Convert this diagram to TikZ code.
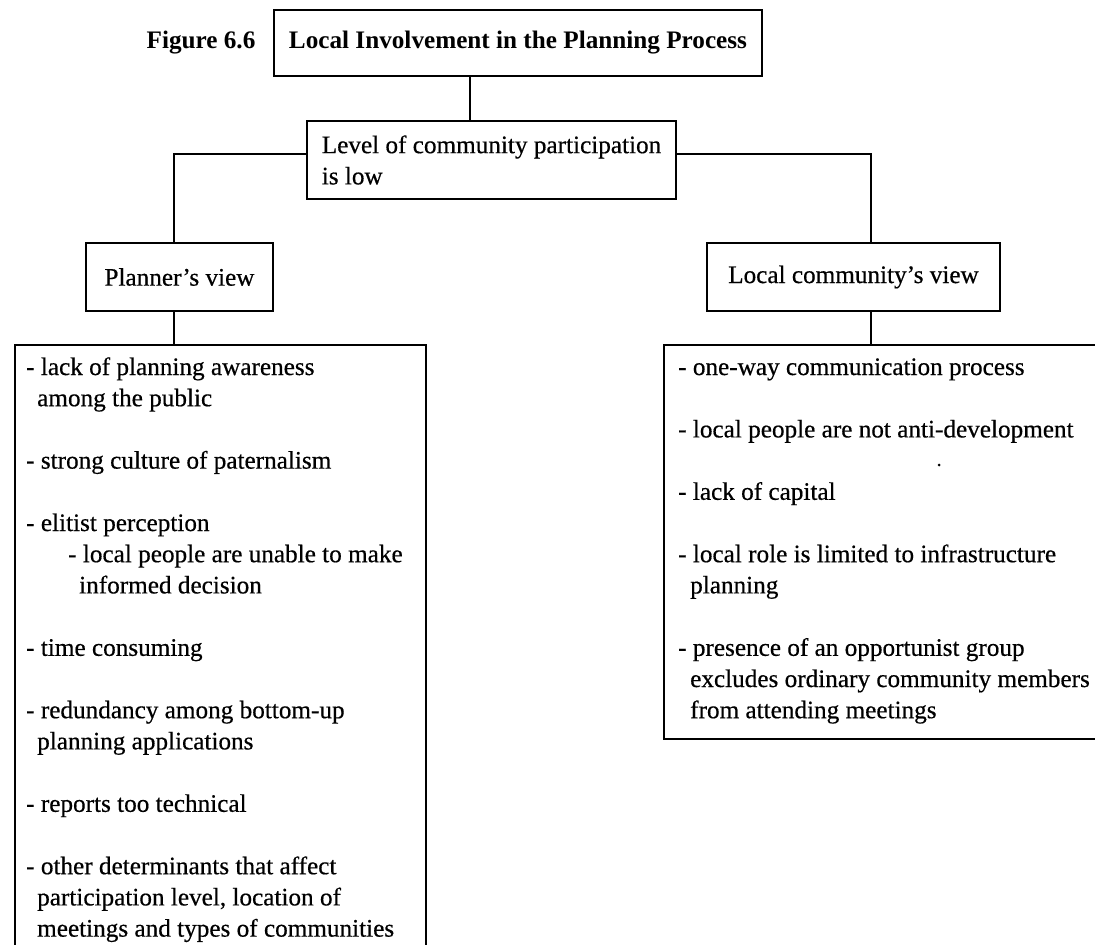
\documentclass[tikz,border=0pt]{standalone}
\usepackage{fontspec}
\setmainfont{Liberation Serif}[UprightFeatures={FakeBold=0.5}]
\begin{document}
\begin{tikzpicture}[x=1pt,y=-1pt,
  txt/.style={font=\fontsize{25.2}{31.2}\selectfont},
  every node/.style={txt, inner sep=0pt},
  box/.style={draw, line width=1.5pt, rectangle},
  link/.style={draw, line width=1.3pt},
  item/.style={anchor=base west}]
\useasboundingbox (0,0) rectangle (1095,945);
\clip (0,0) rectangle (1095,945);

% heading
\node[font=\fontsize{25.2}{31.2}\selectfont\bfseries] (fig) at (201,43) {Figure 6.6};
\node[box, minimum width=488pt, minimum height=66pt,
      font=\fontsize{25.2}{31.2}\selectfont\bfseries] (title) at (518,43)
      {Local Involvement in the Planning Process};

% central finding
\node[box, minimum width=369pt, minimum height=78pt, align=left]
  (lvl) at (491.5,160) {Level of community participation\\is low};

% the two views
\node[box, minimum width=187pt, minimum height=68pt] (pv) at (179.5,277) {Planner’s view};
\node[box, minimum width=293pt, minimum height=68pt] (lv) at (853.5,277) {Local community’s view};

% list frames (running past the page edges)
\node[box, minimum width=411pt, minimum height=620pt, anchor=north west] (pl) at (14,344) {};
\node[box, minimum width=460pt, minimum height=394pt, anchor=north west] (cl) at (663,344) {};

% connector guides
\coordinate (hy) at (0,154);
\coordinate (tx) at (470,0);
\coordinate (px) at (174,0);
\coordinate (cx) at (871,0);

\draw[link] (title.south -| tx) -- (lvl.north -| tx);
\draw[link] (lvl.west |- hy) -| (pv.north -| px);
\draw[link] (lvl.east |- hy) -| (lv.north -| cx);
\draw[link] (pv.south -| px) -- (pl.north -| px);
\draw[link] (lv.south -| cx) -- (cl.north -| cx);

% planner's reasons
\foreach \k/\x/\t [count=\i] in {
  0/26/{- lack of planning awareness},
  1/37/{among the public},
  3/26/{- strong culture of paternalism},
  5/26/{- elitist perception},
  6/68/{- local people are unable to make},
  7/79/{informed decision},
  9/26/{- time consuming},
  11/26/{- redundancy among bottom-up},
  12/37/{planning applications},
  14/26/{- reports too technical},
  16/26/{- other determinants that affect},
  17/37/{participation level, location of},
  18/37/{meetings and types of communities}}
  \node[item] (pl\i) at (\x,{375+31.2*\k}) {\t};

% community's reasons
\foreach \k/\x/\t [count=\i] in {
  0/678/{- one-way communication process},
  2/678/{- local people are not anti-development},
  4/678/{- lack of capital},
  6/678/{- local role is limited to infrastructure},
  7/690/{planning},
  9/678/{- presence of an opportunist group},
  10/690/{excludes ordinary community members},
  11/690/{from attending meetings}}
  \node[item] (cl\i) at (\x,{375+31.2*\k}) {\t};

\fill (939,465) circle (1.5pt);
\end{tikzpicture}
\end{document}
